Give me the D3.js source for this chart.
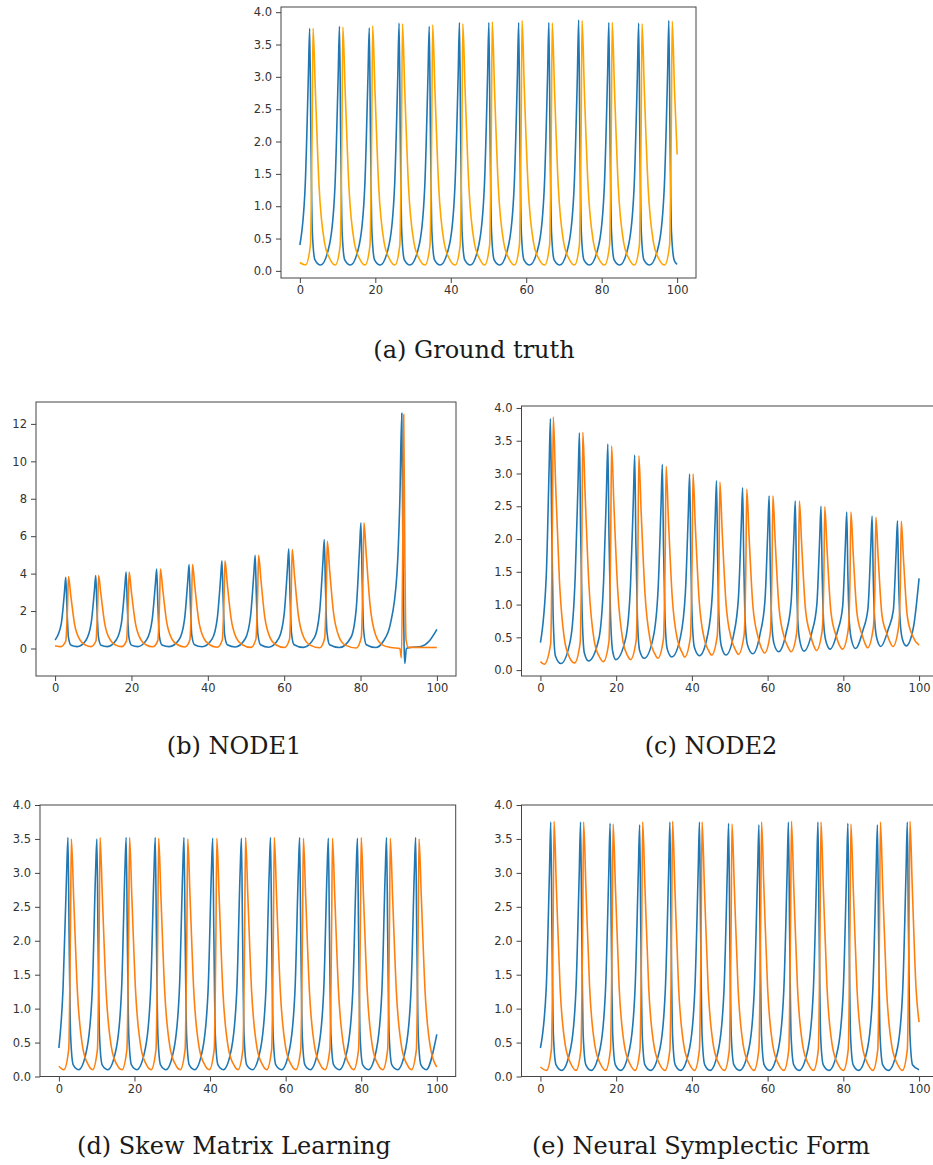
<!DOCTYPE html>
<html>
<head>
<meta charset="utf-8">
<script src="https://cdn.jsdelivr.net/npm/d3@7"></script>
<style>
  body { margin: 0; background: #fff; }
  .tick text { font-family: "DejaVu Sans", sans-serif; font-size: 11.5px; fill: #333; }
  .tick line { stroke: #444; }
  .caption { font-family: "DejaVu Serif", serif; font-size: 24px; fill: #1a1a1a; }
</style>
</head>
<body>
<div id="chart-area"></div>
<script>
// ---- data: [t, value] ----

// (a) ground truth
var gtBlue = [[0,0.40],[1.4,1.3],[2.25,3.0],[2.6,3.75],[2.9,2.2],[3.3,0.6],[4.0,0.17],[5.5,0.09],
  [7.9,0.42],[9.3,1.3],[10.15,3.0],[10.5,3.78],[10.8,2.2],[11.2,0.6],[11.9,0.17],[13.4,0.09],
  [15.8,0.42],[17.2,1.3],[18.05,3.0],[18.4,3.76],[18.7,2.2],[19.1,0.6],[19.8,0.17],[21.3,0.09],
  [23.7,0.42],[25.1,1.3],[25.95,3.0],[26.3,3.83],[26.6,2.2],[27.0,0.6],[27.7,0.17],[29.2,0.09],
  [31.7,0.42],[33.1,1.3],[33.95,3.0],[34.3,3.78],[34.6,2.2],[35.0,0.6],[35.7,0.17],[37.2,0.09],
  [39.7,0.42],[41.1,1.3],[41.95,3.0],[42.3,3.84],[42.6,2.2],[43.0,0.6],[43.7,0.17],[45.2,0.09],
  [47.5,0.42],[48.9,1.3],[49.75,3.0],[50.1,3.84],[50.4,2.2],[50.8,0.6],[51.5,0.17],[53.0,0.09],
  [55.4,0.42],[56.8,1.3],[57.65,3.0],[58.0,3.84],[58.3,2.2],[58.7,0.6],[59.4,0.17],[60.9,0.09],
  [63.4,0.42],[64.8,1.3],[65.65,3.0],[66.0,3.84],[66.3,2.2],[66.7,0.6],[67.4,0.17],[68.9,0.09],
  [71.3,0.42],[72.7,1.3],[73.55,3.0],[73.9,3.88],[74.2,2.2],[74.6,0.6],[75.3,0.17],[76.8,0.09],
  [79.3,0.42],[80.7,1.3],[81.55,3.0],[81.9,3.84],[82.2,2.2],[82.6,0.6],[83.3,0.17],[84.8,0.09],
  [87.2,0.42],[88.6,1.3],[89.45,3.0],[89.8,3.83],[90.1,2.2],[90.5,0.6],[91.2,0.17],[92.7,0.09],
  [95.2,0.42],[96.6,1.3],[97.45,3.0],[97.8,3.87],[98.1,2.2],[98.5,0.6],[99.2,0.17],[100,0.1]];
var gtOrange = [[0,0.13],[1.5,0.09],[2.8,0.4],[3.25,2.2],[3.5,3.75],[4.1,2.8],[5.1,1.3],[6.5,0.45],[8.0,0.18],
  [9.4,0.09],[10.7,0.4],[11.15,2.2],[11.4,3.77],[12.0,2.8],[13.0,1.3],[14.4,0.45],[15.9,0.18],
  [17.3,0.09],[18.6,0.4],[19.05,2.2],[19.3,3.79],[19.9,2.8],[20.9,1.3],[22.3,0.45],[23.8,0.18],
  [25.2,0.09],[26.5,0.4],[26.95,2.2],[27.2,3.82],[27.8,2.8],[28.8,1.3],[30.2,0.45],[31.7,0.18],
  [33.2,0.09],[34.5,0.4],[34.95,2.2],[35.2,3.8],[35.8,2.8],[36.8,1.3],[38.2,0.45],[39.7,0.18],
  [41.2,0.09],[42.5,0.4],[42.95,2.2],[43.2,3.82],[43.8,2.8],[44.8,1.3],[46.2,0.45],[47.7,0.18],
  [49.0,0.09],[50.3,0.4],[50.75,2.2],[51.0,3.85],[51.6,2.8],[52.6,1.3],[54.0,0.45],[55.5,0.18],
  [56.9,0.09],[58.2,0.4],[58.65,2.2],[58.9,3.87],[59.5,2.8],[60.5,1.3],[61.9,0.45],[63.4,0.18],
  [64.9,0.09],[66.2,0.4],[66.65,2.2],[66.9,3.83],[67.5,2.8],[68.5,1.3],[69.9,0.45],[71.4,0.18],
  [72.8,0.09],[74.1,0.4],[74.55,2.2],[74.8,3.87],[75.4,2.8],[76.4,1.3],[77.8,0.45],[79.3,0.18],
  [80.8,0.09],[82.1,0.4],[82.55,2.2],[82.8,3.84],[83.4,2.8],[84.4,1.3],[85.8,0.45],[87.3,0.18],
  [88.7,0.09],[90.0,0.4],[90.45,2.2],[90.7,3.82],[91.3,2.8],[92.3,1.3],[93.7,0.45],[95.2,0.18],
  [96.7,0.09],[98.0,0.4],[98.45,2.2],[98.7,3.86],[99.3,2.8],[100,1.8]];

// (b) NODE1
var node1Blue = [[0,0.45],[1.6,1.3],[2.45,3.0],[2.8,3.8],[3.1,2.2],[3.5,0.6],[4.2,0.17],[5.8,0.1],
  [8.05,0.43],[9.45,1.35],[10.3,3.1],[10.65,3.9],[10.95,2.25],[11.35,0.62],[12.05,0.17],[13.7,0.1],
  [16.0,0.45],[17.4,1.4],[18.25,3.25],[18.6,4.08],[18.9,2.35],[19.3,0.65],[20.0,0.18],[21.7,0.1],
  [24.0,0.47],[25.4,1.5],[26.25,3.4],[26.6,4.25],[26.9,2.45],[27.3,0.68],[28.0,0.19],[29.9,0.1],
  [32.5,0.48],[33.9,1.55],[34.75,3.6],[35.1,4.48],[35.4,2.6],[35.8,0.72],[36.5,0.2],[38.5,0.09],
  [41.1,0.5],[42.5,1.65],[43.35,3.75],[43.7,4.69],[44.0,2.7],[44.4,0.75],[45.1,0.2],[47.2,0.08],
  [49.8,0.52],[51.2,1.75],[52.05,4.0],[52.4,4.98],[52.7,2.9],[53.1,0.8],[53.8,0.2],[56.0,0.07],
  [58.6,0.55],[60.0,1.85],[60.85,4.25],[61.2,5.32],[61.5,3.1],[61.9,0.85],[62.6,0.2],[65.0,0.06],
  [67.9,0.58],[69.3,2.0],[70.15,4.65],[70.5,5.82],[70.8,3.4],[71.2,0.9],[71.9,0.2],[74.5,0.05],
  [77.5,0.6],[78.9,2.2],[79.75,5.4],[80.1,6.72],[80.4,3.9],[80.8,1.0],[81.5,0.2],[84.0,0.05],
  [86.0,0.4],[87.8,1.3],[89.5,3.9],[90.3,8.0],[90.8,12.57],[91.1,5.0],[91.4,0.2],[91.6,-0.8],
  [92.0,0.0],[93.0,0.05],[96.0,0.12],[98.0,0.4],[100,1.02]];
var node1Orange = [[0,0.15],[1.5,0.1],[2.8,0.4],[3.25,2.2],[3.5,3.85],[4.1,2.85],[5.1,1.3],[6.5,0.46],[8.0,0.18],
  [9.4,0.1],[10.7,0.4],[11.15,2.25],[11.4,3.9],[12.0,2.9],[13.0,1.33],[14.4,0.47],[15.9,0.18],
  [17.4,0.1],[18.7,0.41],[19.15,2.35],[19.4,4.08],[20.0,3.0],[21.0,1.4],[22.4,0.49],[23.9,0.19],
  [25.6,0.09],[26.9,0.42],[27.35,2.45],[27.6,4.25],[28.2,3.15],[29.2,1.45],[30.6,0.5],[32.1,0.2],
  [34.0,0.08],[35.3,0.45],[35.75,2.6],[36.0,4.48],[36.6,3.3],[37.6,1.52],[39.0,0.53],[40.5,0.2],
  [42.5,0.07],[43.8,0.47],[44.25,2.7],[44.5,4.69],[45.1,3.45],[46.1,1.6],[47.5,0.55],[49.0,0.2],
  [51.3,0.06],[52.6,0.5],[53.05,2.9],[53.3,4.98],[53.9,3.7],[54.9,1.7],[56.3,0.58],[57.8,0.2],
  [60.1,0.05],[61.4,0.5],[61.85,3.05],[62.1,5.28],[62.7,3.9],[63.7,1.8],[65.1,0.6],[66.8,0.18],
  [69.3,0.04],[70.6,0.55],[71.05,3.3],[71.3,5.73],[71.9,4.2],[72.9,1.95],[74.3,0.65],[76.0,0.18],
  [78.9,0.03],[80.2,0.6],[80.65,3.9],[80.9,6.72],[81.5,5.0],[82.5,2.3],[83.9,0.75],[85.8,0.18],
  [88.0,0.05],[90.3,0.0],[90.7,-0.5],[91.0,4.0],[91.3,12.5],[91.6,5.0],[91.9,0.5],[92.5,0.06],[100,0.05]];

// (c) NODE2
var node2Blue = [[0,0.42],[1.55,1.45],[2.3,3.1],[2.64,3.84],[2.95,2.3],[3.35,0.85],[3.95,0.22],[5.4,0.10],
  [7.9,0.45],[9.2,1.45],[9.95,2.9],[10.3,3.62],[10.6,2.17],[11.0,0.9],[11.6,0.26],[12.7,0.14],
  [15.4,0.47],[16.7,1.38],[17.45,2.76],[17.8,3.45],[18.1,2.07],[18.5,0.86],[19.1,0.28],[19.9,0.16],
  [22.5,0.48],[23.8,1.31],[24.55,2.62],[24.9,3.28],[25.2,1.97],[25.6,0.82],[26.2,0.3],[27.4,0.18],
  [29.8,0.5],[31.1,1.26],[31.85,2.51],[32.2,3.14],[32.5,1.88],[32.9,0.79],[33.5,0.32],[34.7,0.2],
  [37.0,0.51],[38.3,1.2],[39.05,2.39],[39.4,2.99],[39.7,1.79],[40.1,0.75],[40.7,0.34],[42.0,0.22],
  [44.1,0.52],[45.4,1.16],[46.15,2.31],[46.5,2.89],[46.8,1.73],[47.2,0.73],[47.8,0.36],[49.0,0.23],
  [51.0,0.53],[52.3,1.11],[53.05,2.22],[53.4,2.78],[53.7,1.67],[54.1,0.72],[54.7,0.38],[56.1,0.25],
  [58.0,0.55],[59.3,1.06],[60.05,2.13],[60.4,2.66],[60.7,1.6],[61.1,0.72],[61.7,0.4],[62.9,0.28],
  [64.9,0.57],[66.2,1.03],[66.95,2.06],[67.3,2.58],[67.6,1.55],[68.0,0.72],[68.6,0.42],[69.6,0.29],
  [71.7,0.58],[73.0,1.0],[73.75,2.0],[74.1,2.5],[74.4,1.5],[74.8,0.72],[75.4,0.44],[76.5,0.32],
  [78.5,0.6],[79.8,0.96],[80.55,1.93],[80.9,2.41],[81.2,1.45],[81.6,0.72],[82.2,0.45],[83.2,0.33],
  [85.2,0.61],[86.5,0.94],[87.25,1.88],[87.6,2.35],[87.9,1.41],[88.3,0.74],[88.9,0.47],[89.9,0.36],
  [91.9,0.63],[93.2,0.91],[93.95,1.82],[94.3,2.28],[94.6,1.37],[95.0,0.75],[95.6,0.47],[96.6,0.37],
  [98.5,0.65],[100,1.4]];
var node2Orange = [[0,0.13],[1.0,0.09],[2.7,0.4],[3.15,2.2],[3.4,3.86],[4.0,2.86],[5.0,1.39],[6.4,0.45],[7.8,0.18],[9.0,0.11],
  [10.5,0.42],[10.95,2.07],[11.2,3.63],[11.8,2.69],[12.8,1.31],[14.2,0.45],[15.6,0.2],[16.6,0.13],
  [18.1,0.44],[18.55,1.95],[18.8,3.42],[19.4,2.53],[20.4,1.23],[21.8,0.44],[23.0,0.22],[23.8,0.16],
  [25.3,0.46],[25.75,1.86],[26.0,3.27],[26.6,2.42],[27.6,1.18],[29.0,0.45],[30.2,0.25],[31.0,0.18],
  [32.5,0.48],[32.95,1.77],[33.2,3.11],[33.8,2.3],[34.8,1.12],[36.2,0.46],[37.4,0.27],[38.1,0.2],
  [39.6,0.5],[40.05,1.7],[40.3,2.99],[40.9,2.21],[41.9,1.08],[43.3,0.47],[44.4,0.3],[45.2,0.23],
  [46.7,0.52],[47.15,1.64],[47.4,2.87],[48.0,2.12],[49.0,1.03],[50.4,0.48],[51.5,0.31],[52.3,0.24],
  [53.8,0.54],[54.25,1.57],[54.5,2.76],[55.1,2.04],[56.1,0.99],[57.5,0.5],[58.4,0.33],[59.2,0.26],
  [60.7,0.56],[61.15,1.52],[61.4,2.66],[62.0,1.97],[63.0,0.96],[64.4,0.5],[65.4,0.35],[66.2,0.28],
  [67.7,0.58],[68.15,1.47],[68.4,2.58],[69.0,1.91],[70.0,0.93],[71.4,0.52],[72.2,0.37],[72.9,0.3],
  [74.4,0.6],[74.85,1.42],[75.1,2.49],[75.7,1.84],[76.7,0.9],[78.1,0.52],[78.9,0.39],[79.8,0.32],
  [81.3,0.62],[81.75,1.37],[82.0,2.41],[82.6,1.78],[83.6,0.87],[85.0,0.53],[85.7,0.41],[86.4,0.34],
  [87.9,0.64],[88.35,1.33],[88.6,2.33],[89.2,1.72],[90.2,0.84],[91.6,0.54],[92.3,0.43],[93.1,0.36],
  [94.6,0.66],[95.05,1.29],[95.3,2.27],[95.9,1.68],[96.9,0.82],[98.3,0.52],[100,0.38]];

// (d) Skew Matrix Learning
var skewBlue = [[0,0.42],[1.1,1.3],[2.05,3.0],[2.4,3.52],[2.7,2.1],[3.1,0.6],[3.8,0.17],[5.2,0.1],
  [7.45,0.42],[8.85,1.3],[9.7,3.0],[10.05,3.5],[10.35,2.1],[10.75,0.6],[11.45,0.17],[12.9,0.1],
  [15.2,0.42],[16.6,1.3],[17.45,3.0],[17.8,3.52],[18.1,2.1],[18.5,0.6],[19.2,0.17],[20.6,0.1],
  [22.9,0.42],[24.3,1.3],[25.15,3.0],[25.5,3.52],[25.8,2.1],[26.2,0.6],[26.9,0.17],[28.3,0.1],
  [30.5,0.42],[31.9,1.3],[32.75,3.0],[33.1,3.52],[33.4,2.1],[33.8,0.6],[34.5,0.17],[35.9,0.1],
  [38.1,0.42],[39.5,1.3],[40.35,3.0],[40.7,3.51],[41.0,2.1],[41.4,0.6],[42.1,0.17],[43.5,0.1],
  [45.7,0.42],[47.1,1.3],[47.95,3.0],[48.3,3.51],[48.6,2.1],[49.0,0.6],[49.7,0.17],[51.2,0.1],
  [53.4,0.42],[54.8,1.3],[55.65,3.0],[56.0,3.52],[56.3,2.1],[56.7,0.6],[57.4,0.17],[58.9,0.1],
  [61.1,0.42],[62.5,1.3],[63.35,3.0],[63.7,3.52],[64.0,2.1],[64.4,0.6],[65.1,0.17],[66.5,0.1],
  [68.7,0.42],[70.1,1.3],[70.95,3.0],[71.3,3.51],[71.6,2.1],[72.0,0.6],[72.7,0.17],[74.2,0.1],
  [76.4,0.42],[77.8,1.3],[78.65,3.0],[79.0,3.51],[79.3,2.1],[79.7,0.6],[80.4,0.17],[81.9,0.1],
  [84.1,0.42],[85.5,1.3],[86.35,3.0],[86.7,3.52],[87.0,2.1],[87.4,0.6],[88.1,0.17],[89.6,0.1],
  [91.8,0.42],[93.2,1.3],[94.05,3.0],[94.4,3.52],[94.7,2.1],[95.1,0.6],[95.8,0.17],[97.2,0.1],[100,0.62]];
var skewOrange = [[0,0.15],[1.3,0.1],[2.6,0.4],[3.05,2.1],[3.3,3.5],[3.9,2.65],[4.9,1.25],[6.3,0.43],[7.8,0.17],
  [8.9,0.1],[10.2,0.4],[10.65,2.1],[10.9,3.52],[11.5,2.65],[12.5,1.25],[13.9,0.43],[15.4,0.17],
  [16.7,0.1],[18.0,0.4],[18.45,2.1],[18.7,3.52],[19.3,2.65],[20.3,1.25],[21.7,0.43],[23.2,0.17],
  [24.4,0.1],[25.7,0.4],[26.15,2.1],[26.4,3.51],[27.0,2.65],[28.0,1.25],[29.4,0.43],[30.9,0.17],
  [32.1,0.1],[33.4,0.4],[33.85,2.1],[34.1,3.5],[34.7,2.65],[35.7,1.25],[37.1,0.43],[38.6,0.17],
  [39.8,0.1],[41.1,0.4],[41.55,2.1],[41.8,3.51],[42.4,2.65],[43.4,1.25],[44.8,0.43],[46.3,0.17],
  [47.4,0.1],[48.7,0.4],[49.15,2.1],[49.4,3.52],[50.0,2.65],[51.0,1.25],[52.4,0.43],[53.9,0.17],
  [55.0,0.1],[56.3,0.4],[56.75,2.1],[57.0,3.52],[57.6,2.65],[58.6,1.25],[60.0,0.43],[61.5,0.17],
  [62.7,0.1],[64.0,0.4],[64.45,2.1],[64.7,3.51],[65.3,2.65],[66.3,1.25],[67.7,0.43],[69.2,0.17],
  [70.4,0.1],[71.7,0.4],[72.15,2.1],[72.4,3.51],[73.0,2.65],[74.0,1.25],[75.4,0.43],[76.9,0.17],
  [78.0,0.1],[79.3,0.4],[79.75,2.1],[80.0,3.52],[80.6,2.65],[81.6,1.25],[83.0,0.43],[84.5,0.17],
  [85.7,0.1],[87.0,0.4],[87.45,2.1],[87.7,3.51],[88.3,2.65],[89.3,1.25],[90.7,0.43],[92.2,0.17],
  [93.3,0.1],[94.6,0.4],[95.05,2.1],[95.3,3.5],[95.9,2.65],[96.9,1.25],[98.3,0.43],[100,0.14]];

// (e) Neural Symplectic Form
var nsfBlue = [[0,0.42],[1.53,1.3],[2.38,3.0],[2.73,3.75],[3.03,2.2],[3.43,0.6],[4.13,0.17],[5.6,0.09],
  [8.0,0.42],[9.4,1.3],[10.25,3.0],[10.6,3.75],[10.9,2.2],[11.3,0.6],[12.0,0.17],[13.4,0.09],
  [15.8,0.42],[17.2,1.3],[18.05,3.0],[18.4,3.73],[18.7,2.2],[19.1,0.6],[19.8,0.17],[21.2,0.09],
  [23.6,0.42],[25.0,1.3],[25.85,3.0],[26.2,3.71],[26.5,2.2],[26.9,0.6],[27.6,0.17],[29.1,0.09],
  [31.6,0.42],[33.0,1.3],[33.85,3.0],[34.2,3.75],[34.5,2.2],[34.9,0.6],[35.6,0.17],[37.0,0.09],
  [39.4,0.42],[40.8,1.3],[41.65,3.0],[42.0,3.75],[42.3,2.2],[42.7,0.6],[43.4,0.17],[44.8,0.09],
  [47.1,0.42],[48.5,1.3],[49.35,3.0],[49.7,3.73],[50.0,2.2],[50.4,0.6],[51.1,0.17],[52.6,0.09],
  [55.1,0.42],[56.5,1.3],[57.35,3.0],[57.7,3.71],[58.0,2.2],[58.4,0.6],[59.1,0.17],[60.5,0.09],
  [62.9,0.42],[64.3,1.3],[65.15,3.0],[65.5,3.75],[65.8,2.2],[66.2,0.6],[66.9,0.17],[68.3,0.09],
  [70.7,0.42],[72.1,1.3],[72.95,3.0],[73.3,3.75],[73.6,2.2],[74.0,0.6],[74.7,0.17],[76.2,0.09],
  [78.6,0.42],[80.0,1.3],[80.85,3.0],[81.2,3.73],[81.5,2.2],[81.9,0.6],[82.6,0.17],[84.0,0.09],
  [86.4,0.42],[87.8,1.3],[88.65,3.0],[89.0,3.71],[89.3,2.2],[89.7,0.6],[90.4,0.17],[91.9,0.09],
  [94.3,0.42],[95.7,1.3],[96.55,3.0],[96.9,3.75],[97.2,2.2],[97.6,0.6],[98.3,0.17],[100,0.1]];
var nsfOrange = [[0,0.14],[1.6,0.09],[2.9,0.4],[3.35,2.2],[3.6,3.76],[4.2,2.8],[5.2,1.3],[6.6,0.45],[8.1,0.18],
  [9.4,0.09],[10.7,0.4],[11.15,2.2],[11.4,3.75],[12.0,2.8],[13.0,1.3],[14.4,0.45],[15.9,0.18],
  [17.2,0.09],[18.5,0.4],[18.95,2.2],[19.2,3.72],[19.8,2.8],[20.8,1.3],[22.2,0.45],[23.7,0.18],
  [25.0,0.09],[26.3,0.4],[26.75,2.2],[27.0,3.75],[27.6,2.8],[28.6,1.3],[30.0,0.45],[31.5,0.18],
  [32.9,0.09],[34.2,0.4],[34.65,2.2],[34.9,3.76],[35.5,2.8],[36.5,1.3],[37.9,0.45],[39.4,0.18],
  [40.7,0.09],[42.0,0.4],[42.45,2.2],[42.7,3.75],[43.3,2.8],[44.3,1.3],[45.7,0.45],[47.2,0.18],
  [48.6,0.09],[49.9,0.4],[50.35,2.2],[50.6,3.72],[51.2,2.8],[52.2,1.3],[53.6,0.45],[55.1,0.18],
  [56.4,0.09],[57.7,0.4],[58.15,2.2],[58.4,3.75],[59.0,2.8],[60.0,1.3],[61.4,0.45],[62.9,0.18],
  [64.3,0.09],[65.6,0.4],[66.05,2.2],[66.3,3.76],[66.9,2.8],[67.9,1.3],[69.3,0.45],[70.8,0.18],
  [72.1,0.09],[73.4,0.4],[73.85,2.2],[74.1,3.75],[74.7,2.8],[75.7,1.3],[77.1,0.45],[78.6,0.18],
  [80.0,0.09],[81.3,0.4],[81.75,2.2],[82.0,3.72],[82.6,2.8],[83.6,1.3],[85.0,0.45],[86.5,0.18],
  [87.8,0.09],[89.1,0.4],[89.55,2.2],[89.8,3.75],[90.4,2.8],[91.4,1.3],[92.8,0.45],[94.3,0.18],
  [95.6,0.09],[96.9,0.4],[97.35,2.2],[97.6,3.76],[98.2,2.8],[99.2,1.3],[100,0.8]];

// tick values
var xTicks = [0, 20, 40, 60, 80, 100];
var yTicksHalf = [0, 0.5, 1, 1.5, 2, 2.5, 3, 3.5, 4];
var yTicksNode1 = [0, 2, 4, 6, 8, 10, 12];

var captions = ["(a) Ground truth", "(b) NODE1", "(c) NODE2",
                "(d) Skew Matrix Learning", "(e) Neural Symplectic Form"];

// ---- layout ----
var blueColor = "#1f77b4";

var panels = [
  {left:281,  right:696, top:7,   bottom:278,    yDom:[-0.11, 4.08], yTicks:yTicksHalf, fmt:".1f",
   blue:gtBlue, orange:gtOrange, orangeColor:"#ffa500", capX:474, capY:358},
  {left:36,   right:456, top:402, bottom:676,    yDom:[-1.47, 13.17], yTicks:yTicksNode1, fmt:"d",
   blue:node1Blue, orange:node1Orange, orangeColor:"#ff7f0e", capX:234, capY:754},
  {left:521.5,right:938, top:406, bottom:676,    yDom:[-0.09, 4.03], yTicks:yTicksHalf, fmt:".1f",
   blue:node2Blue, orange:node2Orange, orangeColor:"#ff7f0e", capX:711, capY:754},
  {left:40,   right:455.7, top:805, bottom:1076.5, yDom:[0, 4], yTicks:yTicksHalf, fmt:".1f",
   blue:skewBlue, orange:skewOrange, orangeColor:"#ff7f0e", capX:234, capY:1154},
  {left:521.5,right:938, top:805, bottom:1076.5, yDom:[0, 4], yTicks:yTicksHalf, fmt:".1f",
   blue:nsfBlue, orange:nsfOrange, orangeColor:"#ff7f0e", capX:701, capY:1154}
];

var svg = d3.select("#chart-area")
    .append("svg")
    .attr("width", 933)
    .attr("height", 1165);

panels.forEach(function(p, i){
    var w = p.right - p.left, h = p.bottom - p.top;

    var x = d3.scaleLinear().domain([-5, 105]).range([0, w]);
    var y = d3.scaleLinear().domain(p.yDom).range([h, 0]);

    var g = svg.append("g")
        .attr("transform", "translate(" + p.left + "," + p.top + ")");

    g.append("clipPath").attr("id", "clip" + i)
      .append("rect").attr("width", w).attr("height", h);

    var line = d3.line()
        .x(function(d){ return x(d[0]); })
        .y(function(d){ return y(d[1]); })
        .curve(d3.curveMonotoneX);

    var plot = g.append("g").attr("clip-path", "url(#clip" + i + ")");

    plot.append("path")
        .datum(p.blue)
        .attr("fill", "none")
        .attr("stroke", blueColor)
        .attr("stroke-width", 1.6)
        .attr("d", line);

    plot.append("path")
        .datum(p.orange)
        .attr("fill", "none")
        .attr("stroke", p.orangeColor)
        .attr("stroke-width", 1.6)
        .attr("d", line);

    // axes
    var bottomAxis = d3.axisBottom(x).tickValues(xTicks).tickSize(5).tickPadding(3);
    var gx = g.append("g")
        .attr("transform", "translate(0," + h + ")")
        .call(bottomAxis);
    gx.select(".domain").remove();

    var leftAxis = d3.axisLeft(y).tickValues(p.yTicks)
        .tickFormat(d3.format(p.fmt)).tickSize(5).tickPadding(4);
    var gy = g.append("g").call(leftAxis);
    gy.select(".domain").remove();

    // frame
    g.append("rect")
        .attr("width", w)
        .attr("height", h)
        .attr("fill", "none")
        .attr("stroke", "#444")
        .attr("stroke-width", 1);

    svg.append("text")
        .attr("class", "caption")
        .attr("x", p.capX)
        .attr("y", p.capY)
        .attr("text-anchor", "middle")
        .text(captions[i]);
});
</script>
</body>
</html>
